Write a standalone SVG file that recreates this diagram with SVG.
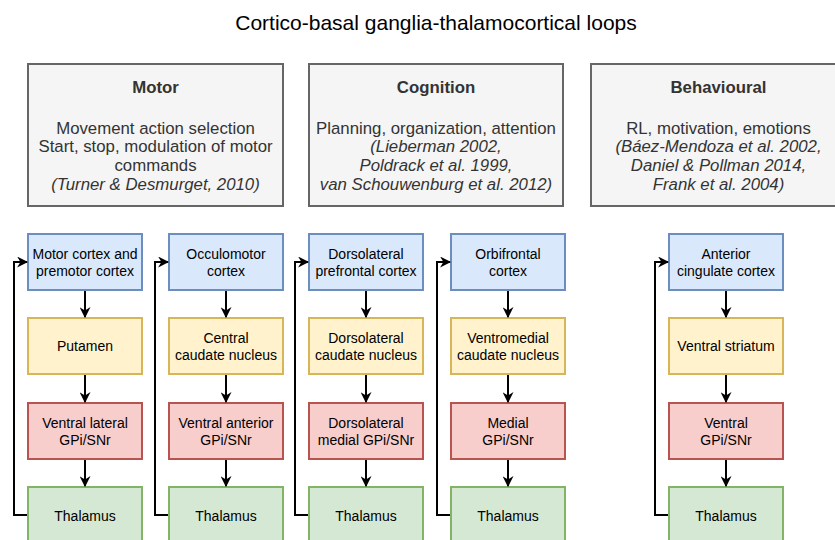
<svg xmlns="http://www.w3.org/2000/svg" width="835" height="540" viewBox="0 0 835 540">
  <style>
    text { font-family: "Liberation Sans", Arial, sans-serif; text-anchor: middle; }
    .title { font-size: 21px; fill: #000000; }
    .group rect { fill: #f5f5f5; stroke: #666666; stroke-width: 2; }
    .group text { font-size: 16.8px; fill: #333333; }
    .group .head { font-weight: bold; }
    .group .ref { font-style: italic; }
    .node text { font-size: 14px; fill: #000000; }
    .node rect { stroke-width: 2; }
    .cortex rect { fill: #dae8fc; stroke: #6c8ebf; }
    .striatum rect { fill: #fff2cc; stroke: #d6b656; }
    .gpi rect { fill: #f8cecc; stroke: #b85450; }
    .thal rect { fill: #d5e8d4; stroke: #82b366; }
    .edges path { fill: none; stroke: #000000; stroke-width: 2; marker-end: url(#arrow); }
  </style>
  <defs>
    <marker id="arrow" viewBox="0 0 10 10" refX="9" refY="5" markerWidth="5.5" markerHeight="5.5" markerUnits="strokeWidth" orient="auto">
      <path d="M0,0 L10,5 L0,10 L3,5 Z" fill="#000000"/>
    </marker>
  </defs>

  <rect width="835" height="540" fill="#ffffff"/>

  <text class="title" x="436" y="30">Cortico-basal ganglia-thalamocortical loops</text>

  <!-- Functional domains -->
  <g id="motor" class="group">
    <rect x="28" y="64" width="255" height="142"/>
    <text class="head" x="155.5" y="92.5">Motor</text>
    <text x="155.5" y="133.5">Movement action selection</text>
    <text x="155.5" y="152">Start, stop, modulation of motor</text>
    <text x="155.5" y="170.5">commands</text>
    <text class="ref" x="155.5" y="189.5">(Turner &amp; Desmurget, 2010)</text>
  </g>
  <g id="cognition" class="group">
    <rect x="309" y="64" width="254" height="142"/>
    <text class="head" x="436" y="92.5">Cognition</text>
    <text x="436" y="133.5">Planning, organization, attention</text>
    <text class="ref" x="436" y="152">(Lieberman 2002,</text>
    <text class="ref" x="436" y="170.5">Poldrack et al. 1999,</text>
    <text class="ref" x="436" y="189.5">van Schouwenburg et al. 2012)</text>
  </g>
  <g id="behavioural" class="group">
    <rect x="591" y="64" width="255" height="142"/>
    <text class="head" x="718.5" y="92.5">Behavioural</text>
    <text x="718.5" y="133.5">RL, motivation, emotions</text>
    <text class="ref" x="718.5" y="152">(Báez-Mendoza et al. 2002,</text>
    <text class="ref" x="718.5" y="170.5">Daniel &amp; Pollman 2014,</text>
    <text class="ref" x="718.5" y="189.5">Frank et al. 2004)</text>
  </g>

  <!-- Loop 1: motor -->
  <g id="motor-cortex" class="node cortex">
    <rect x="28" y="234" width="114" height="56"/>
    <text x="85" y="258.5">Motor cortex and</text>
    <text x="85" y="275.5">premotor cortex</text>
  </g>
  <g id="putamen" class="node striatum">
    <rect x="28" y="318" width="114" height="56"/>
    <text x="85" y="351">Putamen</text>
  </g>
  <g id="vl-gpi" class="node gpi">
    <rect x="28" y="403" width="114" height="56"/>
    <text x="85" y="427.5">Ventral lateral</text>
    <text x="85" y="444.5">GPi/SNr</text>
  </g>
  <g id="thalamus-1" class="node thal">
    <rect x="28" y="487" width="114" height="58"/>
    <text x="85" y="521">Thalamus</text>
  </g>

  <!-- Loop 2: oculomotor -->
  <g id="oculomotor-cortex" class="node cortex">
    <rect x="169" y="234" width="114" height="56"/>
    <text x="226" y="258.5">Occulomotor</text>
    <text x="226" y="275.5">cortex</text>
  </g>
  <g id="central-caudate" class="node striatum">
    <rect x="169" y="318" width="114" height="56"/>
    <text x="226" y="342.5">Central</text>
    <text x="226" y="359.5">caudate nucleus</text>
  </g>
  <g id="va-gpi" class="node gpi">
    <rect x="169" y="403" width="114" height="56"/>
    <text x="226" y="427.5">Ventral anterior</text>
    <text x="226" y="444.5">GPi/SNr</text>
  </g>
  <g id="thalamus-2" class="node thal">
    <rect x="169" y="487" width="114" height="58"/>
    <text x="226" y="521">Thalamus</text>
  </g>

  <!-- Loop 3: dorsolateral prefrontal -->
  <g id="dlpfc" class="node cortex">
    <rect x="309" y="234" width="114" height="56"/>
    <text x="366" y="258.5">Dorsolateral</text>
    <text x="366" y="275.5">prefrontal cortex</text>
  </g>
  <g id="dl-caudate" class="node striatum">
    <rect x="309" y="318" width="114" height="56"/>
    <text x="366" y="342.5">Dorsolateral</text>
    <text x="366" y="359.5">caudate nucleus</text>
  </g>
  <g id="dlm-gpi" class="node gpi">
    <rect x="309" y="403" width="114" height="56"/>
    <text x="366" y="427.5">Dorsolateral</text>
    <text x="366" y="444.5">medial GPi/SNr</text>
  </g>
  <g id="thalamus-3" class="node thal">
    <rect x="309" y="487" width="114" height="58"/>
    <text x="366" y="521">Thalamus</text>
  </g>

  <!-- Loop 4: orbitofrontal -->
  <g id="ofc" class="node cortex">
    <rect x="451" y="234" width="114" height="56"/>
    <text x="508" y="258.5">Orbifrontal</text>
    <text x="508" y="275.5">cortex</text>
  </g>
  <g id="vm-caudate" class="node striatum">
    <rect x="451" y="318" width="114" height="56"/>
    <text x="508" y="342.5">Ventromedial</text>
    <text x="508" y="359.5">caudate nucleus</text>
  </g>
  <g id="medial-gpi" class="node gpi">
    <rect x="451" y="403" width="114" height="56"/>
    <text x="508" y="427.5">Medial</text>
    <text x="508" y="444.5">GPi/SNr</text>
  </g>
  <g id="thalamus-4" class="node thal">
    <rect x="451" y="487" width="114" height="58"/>
    <text x="508" y="521">Thalamus</text>
  </g>

  <!-- Loop 5: anterior cingulate -->
  <g id="acc" class="node cortex">
    <rect x="669" y="234" width="114" height="56"/>
    <text x="726" y="258.5">Anterior</text>
    <text x="726" y="275.5">cingulate cortex</text>
  </g>
  <g id="ventral-striatum" class="node striatum">
    <rect x="669" y="318" width="114" height="56"/>
    <text x="726" y="351">Ventral striatum</text>
  </g>
  <g id="ventral-gpi" class="node gpi">
    <rect x="669" y="403" width="114" height="56"/>
    <text x="726" y="427.5">Ventral</text>
    <text x="726" y="444.5">GPi/SNr</text>
  </g>
  <g id="thalamus-5" class="node thal">
    <rect x="669" y="487" width="114" height="58"/>
    <text x="726" y="521">Thalamus</text>
  </g>

  <!-- Connectors -->
  <g id="edges" class="edges">
    <path d="M85,291 V317"/>
    <path d="M85,375 V402"/>
    <path d="M85,460 V486"/>
    <path d="M27,515 H14 V262 H27"/>

    <path d="M226,291 V317"/>
    <path d="M226,375 V402"/>
    <path d="M226,460 V486"/>
    <path d="M168,515 H155 V262 H168"/>

    <path d="M366,291 V317"/>
    <path d="M366,375 V402"/>
    <path d="M366,460 V486"/>
    <path d="M308,515 H295 V262 H308"/>

    <path d="M508,291 V317"/>
    <path d="M508,375 V402"/>
    <path d="M508,460 V486"/>
    <path d="M450,515 H437 V262 H450"/>

    <path d="M726,291 V317"/>
    <path d="M726,375 V402"/>
    <path d="M726,460 V486"/>
    <path d="M668,515 H655 V262 H668"/>
  </g>
</svg>
